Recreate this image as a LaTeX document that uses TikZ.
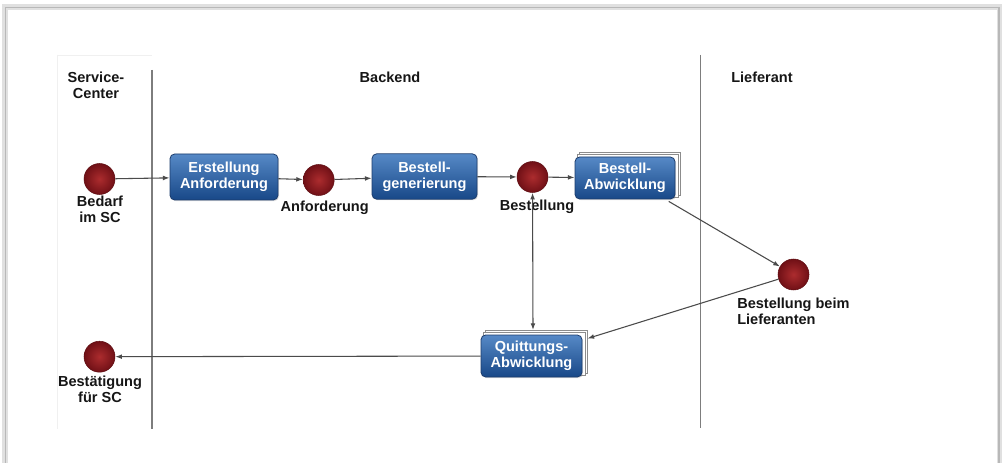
\documentclass[tikz,border=0pt]{standalone}
\usepackage{fontspec}
\setmainfont{Liberation Sans}
\usetikzlibrary{arrows.meta,backgrounds,shadows}
\definecolor{boxtop}{RGB}{86,137,198}
\definecolor{boxbot}{RGB}{24,72,136}
\definecolor{boxline}{RGB}{28,60,108}
\definecolor{circin}{RGB}{172,44,46}
\definecolor{circout}{RGB}{112,16,22}
\definecolor{conn}{RGB}{75,75,75}
\definecolor{lane}{RGB}{125,125,125}
\definecolor{txt}{RGB}{22,22,22}
\begin{document}
\begin{tikzpicture}[x=0.75pt,y=-0.75pt,
  lbl/.style={font=\bfseries\fontsize{10.9}{12}\selectfont, text=txt, inner sep=0pt, align=center, anchor=north},
  evt/.style={circle, minimum size=23.25pt, inner sep=0pt, shading=radial, inner color=circin, outer color=circout, draw=circout!85!black, line width=0.4pt},
  act/.style={rectangle, rounded corners=3.5pt, top color=boxtop, bottom color=boxbot, draw=boxline, line width=0.6pt, text=white, font=\bfseries\fontsize{10.9}{12}\selectfont, align=center, inner sep=0pt, drop shadow={opacity=0.25, shadow xshift=0.8pt, shadow yshift=-0.8pt}},
  stackframe/.style={draw=black!45, fill=white, line width=0.5pt},
  arr/.style={draw=conn, line width=0.8pt, -{Latex[length=5pt,width=3.6pt]}},
  biarr/.style={draw=conn, line width=0.8pt, {Latex[length=5pt,width=3.6pt]}-{Latex[length=5pt,width=3.6pt]}},
  lanediv/.style={draw=lane, line width=0.8pt},
  faint/.style={draw=black!6, line width=0.6pt}
]
\useasboundingbox (0,0) rectangle (1003,463);

% lanes
\draw[faint] (57,55) -- (57,429);
\draw[faint] (57,55) -- (152,55);
\draw[lanediv] (152,70) -- (152,429);
\draw[lanediv] (700.5,55) -- (700.5,428);

\node[lbl] (hsc) at (96,72) {Service-\\Center};
\node[lbl] (hbe) at (390,72) {Backend};
\node[lbl] (hli) at (762,72) {Lieferant};

% events
\node[evt] (bedarf) at (99.5,179) {};
\node[evt] (anf) at (318.7,180) {};
\node[evt] (best) at (532.5,177) {};
\node[evt] (lief) at (793.5,274.5) {};
\node[evt] (bestae) at (99.5,356.7) {};

% activities
\node[act, minimum width=81pt, minimum height=34.5pt] (erst) at (224,177) {Erstellung\\Anforderung};
\node[act, minimum width=78.75pt, minimum height=34pt] (gen) at (424.5,176.5) {Bestell-\\generierung};
\node[act, minimum width=75pt, minimum height=31.5pt] (ba) at (625,178) {Bestell-\\Abwicklung};
\node[act, minimum width=75.75pt, minimum height=31.5pt] (quitt) at (531.5,356) {Quittungs-\\Abwicklung};

\begin{scope}[on background layer]
  % panel with shadow border
  \fill[white] (0,0) rectangle (1003,463);
  \draw[draw=black!12, line width=4pt] (5,7) rectangle (999.5,520);
  \draw[draw=black!28, line width=1.2pt] (5.5,7.5) rectangle (999,520);
  % stacked frames
  \draw[stackframe] ([shift={(5,-4)}]ba.south west) rectangle ([shift={(5,-4)}]ba.north east);
  \draw[stackframe] ([shift={(2.5,-2)}]ba.south west) rectangle ([shift={(2.5,-2)}]ba.north east);
  \draw[stackframe] ([shift={(5,-4)}]quitt.south west) rectangle ([shift={(5,-4)}]quitt.north east);
  \draw[stackframe] ([shift={(2.5,-2)}]quitt.south west) rectangle ([shift={(2.5,-2)}]quitt.north east);
\end{scope}

% labels
\node[lbl] (lbedarf) at (100,196) {Bedarf\\im SC};
\node[lbl] (lanf) at (324.7,200.5) {Anforderung};
\node[lbl] (lbest) at (537,199.5) {Bestellung};
\node[lbl, anchor=north west, align=left] (llief) at (737,297.5) {Bestellung beim\\Lieferanten};
\node[lbl] (lbestae) at (100,375.5) {Bestätigung\\für SC};

% connectors
\coordinate (qin) at (587.5,338.5);
\coordinate (qtop) at (533,330);
\draw[arr] (bedarf) -- (erst);
\draw[arr] (erst) -- (anf);
\draw[arr] (anf) -- (gen);
\draw[arr] (gen) -- (best);
\draw[arr] (best) -- (ba);
\draw[arr] ([xshift=-5pt,yshift=-1.5pt]ba.south east) -- (lief);
\draw[arr] (lief) -- (qin);
\draw[biarr] (best) -- (qtop);
\draw[arr] (quitt) -- (bestae);
\end{tikzpicture}
\end{document}
